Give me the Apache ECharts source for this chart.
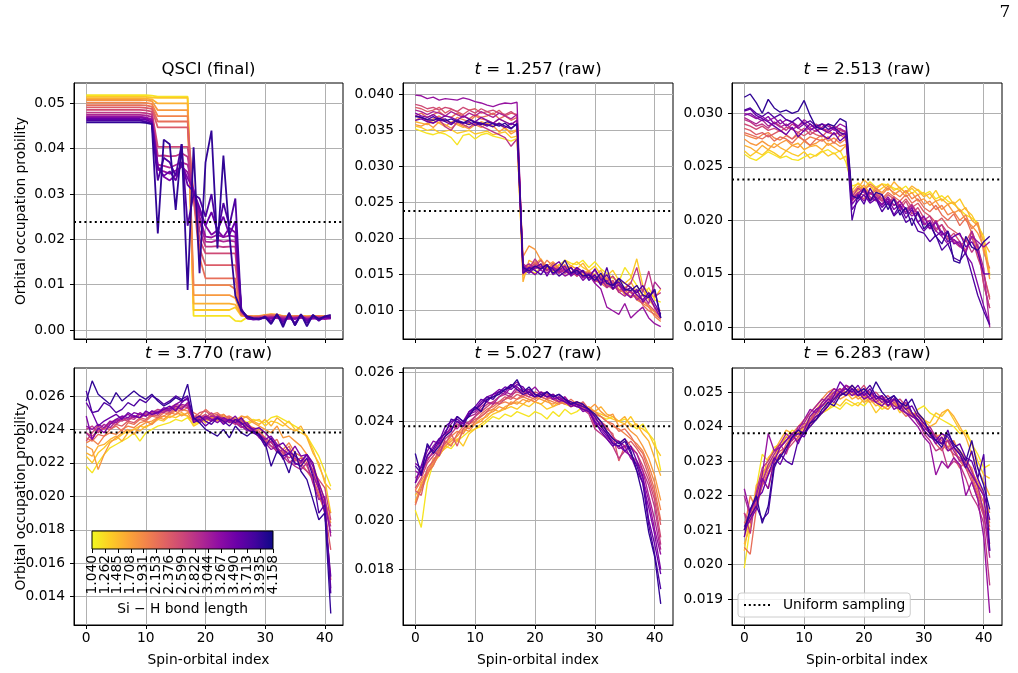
<!DOCTYPE html>
<html><head><meta charset="utf-8">
<script src="https://cdn.jsdelivr.net/npm/echarts@6/dist/echarts.min.js"></script>
<style>html,body{margin:0;padding:0;background:#fff}#c{width:1018px;height:673px}</style>
</head><body><div id="c"></div><script>
// ---------------- DATA (occupation probabilities in units of 1e-5) ----------------
const bondLengths = ['1.040','1.262','1.485','1.708','1.931','2.153','2.376','2.599','2.822','3.044','3.267','3.490','3.713','3.935','4.158'];
const panelTitles = ['QSCI (final)', '{it|t} = 1.257 (raw)', '{it|t} = 2.513 (raw)', '{it|t} = 3.770 (raw)', '{it|t} = 5.027 (raw)', '{it|t} = 6.283 (raw)'];
const xTickValues = [0, 10, 20, 30, 40];
const yTicksQsci = [0.00, 0.01, 0.02, 0.03, 0.04, 0.05];
const yTicks1257 = [0.010, 0.015, 0.020, 0.025, 0.030, 0.035, 0.040];
const yTicks2513 = [0.010, 0.015, 0.020, 0.025, 0.030];
const yTicks3770 = [0.014, 0.016, 0.018, 0.020, 0.022, 0.024, 0.026];
const yTicks5027 = [0.018, 0.020, 0.022, 0.024, 0.026];
const yTicks6283 = [0.019, 0.020, 0.021, 0.022, 0.023, 0.024, 0.025];
const uniformLevel = 0.0238095;

const qsciFinal = [
[5180,5180,5180,5180,5180,5180, 5180,5180,5180,5180,5180,5170, 5150,5150,5150,5150,5150,5150, 310,310,310,310,310,310, 310,200,190,280,300,300, 305,300,300,300,300,300, 300,300,300,300,300,300],
[5145,5145,5145,5145,5145,5145, 5145,5145,5145,5145,5145,5130, 5120,5120,5120,5120,5120,5120, 440,440,440,440,440,440, 440,500,310,300,290,300, 320,340,330,310,300,300, 300,290,300,300,300,300],
[5110,5110,5110,5110,5110,5110, 5110,5110,5110,5110,5105,5090, 5000,5000,5000,5000,5000,5000, 580,580,580,580,580,580, 580,560,320,300,300,310, 330,350,340,300,290,300, 310,300,300,300,300,300],
[5075,5075,5075,5075,5075,5075, 5075,5075,5075,5075,5070,5050, 4850,4850,4850,4850,4850,4850, 770,770,770,770,770,770, 770,700,330,310,300,290, 320,340,330,300,300,310, 300,300,300,300,300,300],
[5015,5015,5015,5015,5015,5015, 5015,5015,5015,5015,5010,4990, 4720,4720,4720,4720,4720,4720, 990,990,990,990,990,990, 990,900,330,310,300,300, 320,330,320,300,290,300, 300,290,300,300,300,300],
[4960,4960,4960,4960,4960,4960, 4960,4960,4960,4960,4955,4930, 4600,4600,4600,4600,4600,4600, 2900,1600,1140,1140,1140,1140, 1140,1140,350,300,290,300, 310,330,320,300,290,300, 300,290,300,300,290,300],
[4910,4910,4910,4910,4910,4910, 4910,4910,4910,4910,4900,4880, 4470,4470,4470,4470,4470,4470, 2950,1800,1430,1430,1430,1430, 1430,1430,380,290,280,290, 300,310,300,290,280,290, 300,280,290,290,280,290],
[4855,4855,4855,4855,4855,4855, 4855,4855,4855,4855,4845,4820, 4040,4040,4040,4040,4040,4040, 2980,2000,1690,1690,1690,1690, 1690,1690,400,280,270,280, 290,300,290,280,270,280, 290,270,280,280,270,280],
[4795,4795,4795,4795,4795,4795, 4795,4795,4795,4795,4785,4760, 3840,3850,3830,3840,3900,3820, 3000,2200,1840,1840,1850,1830, 1840,1840,420,270,260,270, 280,290,280,270,260,270, 280,260,270,280,260,270],
[4745,4745,4745,4745,4745,4745, 4745,4745,4745,4745,4735,4700, 3650,3620,3580,3640,3700,3650, 3050,2400,1950,1940,1980,1950, 1970,1950,430,260,250,260, 270,280,270,260,250,260, 270,250,260,270,250,260],
[4705,4705,4705,4705,4705,4705, 4705,4705,4705,4705,4690,4650, 3530,3500,3450,3520,3600,3480, 3000,2500,2060,2040,2100,2050, 2080,2060,450,260,240,250, 260,270,260,240,250,260, 270,240,250,260,240,260],
[4685,4685,4685,4685,4685,4685, 4685,4685,4685,4685,4670,4620, 3600,3380,3300,3420,3650,3350, 3100,2600,2300,2100,2200,2050, 2250,2150,460,250,240,250, 270,250,300,220,260,240, 300,230,260,240,270,250],
[4655,4655,4655,4655,4655,4655, 4655,4655,4655,4655,4640,4580, 3600,3400,3500,3300,3700,3200, 3050,2700,2300,2600,2200,2500, 2100,2400,420,260,230,240, 280,200,320,180,300,150, 330,200,290,220,280,270],
[4620,4620,4620,4620,4620,4620, 4620,4620,4620,4620,4600,4550, 3300,3800,3700,3400,4100,2300, 3000,2900,2500,3000,2100,2800, 2300,2900,450,280,250,230, 300,150,350,120,360,100, 340,150,330,200,300,280],
[4580,4580,4580,4580,4580,4580, 4580,4580,4580,4580,4570,4540, 2130,4200,4100,2650,4100,880, 4030,1250,3700,4400,1800,3850, 2100,750,430,300,260,250, 280,130,350,60,380,100, 350,80,330,240,300,330]
];

const raw1257 = [
[3520,3490,3460,3440,3470,3450, 3400,3300,3430,3450,3380,3440, 3460,3420,3400,3380,3350,3390, 1480,1560,1520,1600,1580,1540, 1630,1700,1660,1640,1700,1600, 1680,1580,1520,1450,1400,1600, 1480,1350,1200,1320,1150,1120],
[3560,3540,3500,3520,3470,3490, 3510,3460,3480,3500,3450,3470, 3490,3440,3460,3480,3400,3420, 1550,1620,1580,1650,1600,1560, 1640,1590,1620,1680,1600,1550, 1620,1500,1480,1560,1420,1380, 1450,1720,1350,1250,1180,1300],
[3620,3600,3580,3640,3600,3550, 3620,3580,3540,3600,3570,3620, 3590,3550,3600,3520,3480,3510, 1400,1700,1650,1720,1580,1640, 1560,1700,1620,1580,1660,1540, 1500,1560,1420,1480,1380,1320, 1400,1250,1300,1150,1050,950],
[3580,3560,3600,3540,3620,3580, 3530,3600,3560,3520,3580,3540, 3600,3560,3480,3540,3450,3500, 1750,1900,1850,1700,1620,1680, 1600,1540,1620,1580,1500,1560, 1450,1500,1380,1420,1300,1250, 1330,1200,1150,1050,980,900],
[3640,3680,3620,3660,3700,3640, 3600,3680,3650,3620,3700,3660, 3640,3600,3660,3620,3580,3640, 1600,1550,1650,1580,1700,1620, 1560,1640,1520,1580,1480,1540, 1420,1380,1460,1300,1350,1220, 1280,1150,1100,1050,920,850],
[3700,3740,3680,3720,3760,3700, 3680,3740,3700,3660,3720,3680, 3700,3740,3660,3700,3640,3680, 1500,1620,1680,1600,1550,1660, 1580,1520,1600,1480,1550,1450, 1500,1380,1320,1400,1250,1300, 1180,1220,1080,1000,950,880],
[3820,3800,3760,3780,3820,3740, 3790,3760,3720,3780,3800,3740, 3760,3720,3780,3700,3740,3720, 1650,1580,1620,1700,1560,1620, 1520,1600,1540,1480,1560,1500, 1420,1480,1360,1300,1380,1240, 1200,1280,1150,1080,1000,920],
[3860,3840,3800,3820,3780,3820, 3800,3760,3820,3780,3740,3800, 3760,3780,3740,3720,3760,3700, 1550,1600,1650,1580,1620,1560, 1600,1540,1500,1580,1460,1520, 1480,1400,1350,1420,1280,1320, 1250,1180,1100,1250,1030,1000],
[3700,3680,3640,3600,3650,3550, 3500,3620,3580,3540,3600,3560, 3520,3480,3440,3400,3280,3380, 1650,1580,1720,1600,1640,1560, 1580,1520,1600,1480,1540,1500, 1560,1450,1400,1480,1350,1300, 1380,1600,1250,1550,1200,1250],
[3780,3760,3720,3760,3740,3700, 3760,3720,3680,3740,3700,3760, 3720,3680,3740,3700,3660,3720, 1600,1650,1580,1620,1560,1600, 1520,1580,1500,1560,1480,1520, 1400,1460,1320,1380,1260,1200, 1280,1150,1220,1100,1400,1300],
[3990,3980,3940,3960,3920,3940, 3930,3920,3950,3930,3900,3880, 3850,3830,3860,3880,3870,3890, 1520,1580,1620,1560,1520,1600, 1550,1480,1520,1600,1450,1500, 1380,1300,1050,1000,950,1100, 900,980,1050,900,820,780],
[3740,3700,3680,3720,3660,3700, 3680,3640,3700,3660,3620,3680, 3640,3600,3660,3620,3580,3640, 1620,1560,1500,1580,1640,1500, 1560,1620,1480,1540,1420,1500, 1460,1380,1420,1300,1360,1250, 1180,1300,1120,1200,1050,900],
[3640,3660,3620,3600,3650,3620, 3580,3640,3600,3620,3570,3600, 3560,3600,3580,3540,3600,3560, 1580,1520,1600,1650,1480,1620, 1680,1560,1500,1600,1540,1450, 1580,1420,1500,1350,1400,1280, 1320,1220,1150,1250,1100,950],
[3700,3680,3650,3690,3640,3660, 3600,3640,3610,3580,3620,3600, 3580,3550,3600,3560,3520,3600, 1520,1600,1560,1500,1620,1580, 1480,1540,1600,1500,1560,1420, 1500,1350,1600,1300,1450,1380, 1320,1250,1350,1200,1280,900],
[3690,3680,3650,3640,3670,3630, 3660,3620,3600,3650,3610,3580, 3620,3590,3560,3600,3530,3590, 1600,1550,1620,1580,1640,1520, 1580,1700,1520,1560,1480,1500, 1420,1520,1380,1350,1450,1300, 1280,1350,1220,1180,1300,900]
];

const raw2513 = [
[2620,2580,2560,2600,2640,2610, 2580,2600,2570,2560,2590,2620, 2600,2640,2660,2620,2650,2540, 2320,2340,2300,2360,2310,2340, 2330,2300,2280,2320,2250,2290, 2240,2270,2200,2230,2180,2150, 2100,2050,2020,1980,1800,1480],
[2650,2600,2640,2610,2660,2630, 2590,2650,2620,2600,2640,2580, 2610,2650,2600,2630,2570,2600, 2280,2350,2300,2320,2260,2300, 2340,2280,2310,2250,2300,2240, 2260,2200,2280,2180,2230,2150, 2200,2100,2050,1950,1850,1500],
[2700,2680,2640,2700,2660,2720, 2680,2650,2700,2720,2660,2690, 2700,2660,2720,2680,2640,2700, 2260,2300,2380,2320,2290,2340, 2280,2360,2300,2260,2320,2280, 2220,2250,2180,2200,2150,2170, 2080,2120,2000,1950,1800,1700],
[2760,2720,2700,2740,2700,2680, 2720,2750,2700,2680,2740,2700, 2720,2760,2700,2730,2690,2710, 2230,2280,2330,2250,2300,2260, 2320,2240,2280,2220,2260,2180, 2200,2140,2180,2100,2150,2070, 2100,2000,1950,1880,1750,1450],
[2800,2780,2760,2800,2820,2770, 2750,2790,2760,2800,2740,2780, 2760,2800,2740,2770,2720,2760, 2250,2320,2280,2340,2300,2240, 2300,2260,2220,2280,2200,2240, 2150,2180,2100,2140,2050,2080, 2000,2050,1920,1980,1700,1550],
[2820,2800,2780,2760,2800,2740, 2780,2760,2720,2780,2750,2700, 2760,2740,2780,2720,2800,2760, 2200,2260,2300,2240,2280,2200, 2260,2220,2180,2240,2160,2200, 2120,2080,2140,2050,2000,2060, 1950,2020,1880,1700,1500,1280],
[2860,2840,2800,2820,2780,2810, 2840,2800,2760,2820,2790,2830, 2800,2780,2840,2800,2820,2780, 2180,2240,2200,2260,2220,2180, 2240,2200,2140,2200,2120,2160, 2080,2040,1980,2020,1940,1900, 1860,1800,1900,1750,1400,1180],
[2900,2880,2850,2880,2840,2860, 2830,2870,2850,2820,2860,2800, 2840,2860,2820,2800,2840,2820, 2210,2260,2230,2180,2250,2200, 2160,2220,2100,2180,2060,2120, 2020,1980,1900,1960,1820,1880, 1800,1720,1850,1650,1500,1260],
[2940,2920,2880,2900,2860,2920, 2880,2840,2900,2860,2830,2870, 2900,2860,2840,2880,2850,2830, 2220,2300,2260,2200,2240,2180, 2200,2140,2180,2100,2150,2060, 2000,2040,1920,1960,1880,1800, 1750,1820,1700,1780,1400,1180],
[2960,2930,2900,2940,2880,2910, 2870,2900,2850,2880,2920,2860, 2830,2870,2900,2840,2860,2820, 2190,2250,2300,2220,2180,2240, 2150,2200,2120,2080,2140,2050, 1980,1920,2000,1880,1850,1820, 1780,1700,1900,1750,1550,1000],
[3000,2980,2950,2970,2930,2960, 2900,2940,2920,2880,2940,2900, 2860,2900,2880,2850,2900,2870, 2200,2240,2180,2260,2200,2150, 2220,2140,2180,2100,2040,2080, 1960,2000,1900,1850,1780,1820, 1760,1700,1850,1800,1750,1800],
[2980,3000,2960,2930,2970,2900, 2940,2880,2920,2860,2900,2840, 2880,2850,2820,2860,2790,2820, 2150,2220,2280,2180,2220,2140, 2200,2100,2150,2060,2120,1980, 2040,1920,1980,1860,1900,1780, 1800,1680,1600,1400,1200,1030],
[3020,3040,2980,2950,2920,2880, 2840,2800,2870,2780,2840,2900, 2850,2800,2760,2820,2740,2790, 2100,2180,2240,2160,2200,2120, 2180,2050,2140,2020,2100,1980, 1900,1960,1850,1900,1800,1850, 1880,1750,1800,1700,1500,1500],
[3030,3050,3000,2970,3010,2960, 2990,2940,2920,2960,2900,2930, 2880,2900,2850,2870,2820,2800, 2000,2240,2150,2300,2200,2080, 2160,2040,2100,1980,2020,1900, 1880,1800,1860,1720,1780,1650, 1620,1700,1500,1300,1150,1020],
[3150,3180,3100,3000,3130,3050, 3010,3030,3000,3020,3120,2980, 2870,2850,2900,2880,2950,2920, 2230,2200,2300,2180,2260,2240, 2100,2200,2050,2120,1950,2080, 1920,1980,1850,1780,1900,1620, 1600,1850,1750,1720,1800,1850]
];

const raw3770 = [
[2180,2140,2200,2250,2290,2310, 2330,2350,2380,2330,2380,2400, 2420,2430,2440,2460,2450,2470, 2430,2450,2460,2470,2480,2460, 2450,2470,2460,2440,2460,2450, 2440,2470,2480,2460,2440,2420, 2400,2360,2300,2240,2150,2060],
[2240,2200,2260,2290,2330,2340, 2370,2390,2400,2420,2410,2440, 2460,2450,2480,2470,2490,2480, 2420,2440,2460,2450,2470,2480, 2440,2460,2450,2430,2450,2460, 2420,2450,2440,2420,2450,2400, 2380,2360,2280,2180,2100,1900],
[2260,2240,2300,2310,2340,2360, 2330,2380,2400,2390,2420,2430, 2460,2480,2470,2490,2500,2480, 2450,2470,2440,2480,2460,2450, 2470,2440,2460,2480,2450,2430, 2460,2420,2470,2440,2410,2390, 2420,2350,2260,2200,2080,2040],
[2300,2280,2160,2250,2320,2350, 2380,2400,2370,2420,2440,2450, 2470,2460,2490,2510,2480,2500, 2440,2460,2470,2450,2480,2490, 2460,2450,2480,2470,2440,2420, 2400,2380,2420,2350,2360,2330, 2300,2250,2200,2080,1980,1840],
[2320,2340,2310,2360,2380,2370, 2400,2420,2410,2440,2450,2430, 2470,2480,2500,2490,2520,2510, 2470,2460,2480,2470,2450,2490, 2460,2440,2470,2430,2410,2400, 2380,2340,2310,2280,2320,2260, 2240,2200,2160,2050,1950,1900],
[2350,2330,2370,2360,2400,2420, 2390,2440,2430,2460,2450,2480, 2470,2500,2490,2520,2510,2530, 2500,2480,2520,2490,2500,2470, 2480,2460,2450,2420,2400,2390, 2350,2320,2340,2260,2300,2220, 2200,2150,2100,2020,1900,1500],
[2380,2360,2390,2410,2400,2430, 2420,2450,2440,2470,2460,2490, 2480,2510,2500,2530,2520,2560, 2470,2500,2510,2480,2490,2460, 2470,2450,2440,2410,2390,2380, 2340,2300,2280,2250,2280,2210, 2230,2180,2100,2000,1920,1680],
[2330,2380,2420,2400,2440,2430, 2460,2450,2480,2470,2490,2480, 2500,2520,2510,2540,2530,2550, 2480,2470,2490,2460,2480,2450, 2460,2440,2420,2400,2410,2370, 2350,2320,2290,2260,2230,2250, 2200,2220,2150,2100,2050,1860],
[2400,2420,2380,2410,2440,2460, 2450,2470,2460,2490,2480,2500, 2520,2510,2530,2550,2540,2530, 2460,2480,2470,2500,2460,2470, 2450,2430,2460,2400,2380,2360, 2330,2300,2270,2240,2200,2230, 2180,2150,2120,2050,1950,1820],
[2380,2340,2400,2430,2410,2450, 2470,2460,2480,2470,2500,2490, 2510,2500,2530,2520,2550,2540, 2450,2470,2460,2480,2470,2440, 2460,2440,2410,2430,2380,2370, 2300,2330,2260,2280,2210,2180, 2160,2200,2080,1980,2000,1760],
[2420,2400,2430,2410,2450,2440, 2470,2490,2470,2500,2480,2510, 2490,2520,2510,2540,2520,2560, 2460,2440,2470,2450,2480,2460, 2440,2460,2420,2390,2400,2350, 2320,2280,2300,2220,2260,2190, 2200,2250,2140,2040,1950,1780],
[2480,2340,2410,2380,2430,2460, 2480,2470,2500,2490,2480,2510, 2500,2530,2520,2550,2570,2580, 2470,2450,2480,2460,2440,2470, 2450,2480,2430,2440,2390,2370, 2340,2360,2310,2280,2250,2300, 2240,2250,2180,2080,1980,1450],
[2560,2500,2420,2450,2470,2490, 2460,2500,2480,2470,2510,2490, 2500,2520,2540,2510,2560,2590, 2440,2460,2420,2450,2470,2430, 2460,2440,2470,2420,2400,2410, 2380,2340,2300,2320,2270,2240, 2210,2250,2200,2060,1900,1520],
[2630,2500,2510,2560,2540,2500, 2520,2560,2540,2580,2560,2600, 2580,2550,2570,2600,2580,2600, 2460,2480,2450,2430,2470,2450, 2420,2460,2440,2400,2380,2360, 2300,2350,2280,2240,2260,2200, 2180,2230,2120,1900,1950,1420],
[2570,2690,2610,2580,2550,2620, 2570,2600,2630,2600,2580,2610, 2570,2540,2560,2590,2570,2670, 2470,2440,2400,2380,2360,2400, 2350,2420,2380,2360,2390,2370, 2320,2180,2270,2230,2140,2270, 2150,2100,1980,1860,1900,1300]
];

const raw5027 = [
[2040,1970,2150,2230,2260,2300, 2290,2320,2340,2360,2370,2380, 2400,2420,2410,2430,2420,2440, 2430,2420,2440,2430,2410,2440, 2420,2450,2430,2440,2460,2440, 2430,2420,2410,2420,2400,2410, 2390,2370,2390,2350,2320,2200],
[2080,2120,2180,2240,2270,2290, 2310,2330,2300,2350,2370,2390, 2410,2430,2440,2450,2460,2450, 2470,2460,2480,2470,2450,2460, 2480,2470,2460,2480,2470,2450, 2440,2430,2420,2410,2400,2390, 2420,2380,2370,2350,2300,2260],
[2100,2140,2200,2220,2280,2300, 2330,2320,2360,2380,2390,2410, 2420,2450,2440,2460,2470,2480, 2470,2490,2480,2470,2490,2460, 2470,2480,2460,2470,2450,2460, 2440,2460,2430,2420,2400,2420, 2380,2390,2350,2320,2250,2180],
[2070,2150,2180,2250,2260,2300, 2320,2340,2370,2360,2390,2400, 2430,2440,2460,2450,2480,2470, 2490,2480,2500,2490,2480,2470, 2490,2480,2470,2480,2460,2450, 2470,2440,2420,2430,2380,2390, 2360,2340,2300,2250,2180,2080],
[2120,2160,2200,2230,2290,2310, 2340,2360,2350,2390,2400,2420, 2440,2450,2470,2480,2470,2490, 2500,2490,2480,2500,2490,2480, 2470,2490,2480,2460,2470,2450, 2440,2420,2400,2380,2370,2350, 2330,2310,2280,2220,2150,2040],
[2060,2130,2190,2220,2270,2320, 2300,2350,2380,2370,2400,2430, 2450,2460,2480,2490,2500,2490, 2510,2500,2490,2510,2500,2490, 2480,2470,2490,2470,2460,2440, 2430,2420,2400,2390,2360,2370, 2340,2300,2270,2200,2120,2000],
[2120,2100,2210,2240,2280,2310, 2350,2300,2370,2390,2410,2420, 2440,2470,2480,2500,2490,2510, 2500,2520,2510,2500,2490,2510, 2490,2480,2470,2460,2480,2450, 2380,2400,2370,2350,2240,2300, 2320,2290,2250,2180,2100,1980],
[2130,2170,2230,2260,2290,2340, 2370,2390,2380,2400,2420,2440, 2460,2480,2470,2490,2510,2520, 2510,2500,2520,2510,2500,2490, 2480,2500,2470,2480,2460,2440, 2420,2400,2380,2340,2310,2330, 2300,2270,2220,2160,2080,1930],
[2150,2190,2240,2280,2260,2330, 2350,2380,2400,2390,2420,2450, 2470,2480,2500,2510,2500,2530, 2520,2510,2500,2520,2510,2490, 2500,2480,2470,2480,2450,2430, 2370,2350,2330,2300,2250,2280, 2260,2240,2200,2140,2050,1900],
[2170,2200,2250,2270,2310,2340, 2380,2370,2400,2420,2430,2460, 2480,2470,2500,2520,2510,2540, 2520,2530,2510,2500,2520,2500, 2480,2490,2460,2470,2450,2440, 2410,2390,2360,2330,2320,2300, 2290,2270,2200,2100,2000,1880],
[2200,2180,2260,2300,2330,2350, 2370,2400,2390,2430,2440,2470, 2490,2500,2520,2510,2540,2560, 2530,2520,2540,2510,2500,2510, 2490,2500,2470,2460,2470,2440, 2400,2380,2350,2320,2290,2300, 2250,2230,2170,2080,1960,1860],
[2230,2210,2280,2320,2310,2360, 2390,2420,2400,2440,2450,2480, 2500,2510,2530,2520,2550,2540, 2520,2530,2510,2500,2520,2490, 2500,2480,2460,2470,2440,2450, 2390,2370,2340,2310,2300,2280, 2260,2200,2150,2050,1940,1800],
[2150,2220,2300,2280,2320,2380, 2400,2410,2390,2440,2460,2490, 2480,2510,2520,2540,2530,2550, 2540,2510,2500,2520,2500,2510, 2490,2480,2470,2460,2450,2440, 2400,2360,2330,2300,2320,2280, 2300,2240,2180,2000,1900,1780],
[2220,2190,2260,2290,2330,2350, 2410,2400,2380,2430,2450,2470, 2500,2490,2520,2530,2550,2530, 2510,2520,2500,2510,2520,2500, 2510,2490,2480,2470,2460,2450, 2420,2380,2350,2310,2300,2320, 2270,2220,2150,1980,1860,1720],
[2270,2180,2310,2270,2300,2340, 2360,2420,2400,2420,2460,2440, 2490,2500,2510,2530,2540,2570, 2520,2540,2510,2500,2520,2500, 2510,2490,2470,2480,2470,2450, 2430,2400,2360,2330,2310,2330, 2280,2200,2100,1950,1850,1660]
];

const raw6283 = [
[1990,2110,2220,2320,2300,2340, 2350,2370,2390,2380,2400,2420, 2430,2440,2450,2460,2450,2470, 2460,2470,2460,2480,2470,2450, 2460,2470,2450,2440,2430,2450, 2460,2440,2430,2420,2410,2400, 2380,2390,2350,2320,2280,2290],
[2040,2150,2180,2260,2290,2320, 2340,2360,2370,2360,2390,2410, 2420,2440,2450,2470,2460,2480, 2470,2460,2480,2470,2440,2460, 2450,2470,2440,2460,2430,2440, 2420,2410,2440,2430,2450,2420, 2390,2380,2350,2300,2260,2250],
[2060,2110,2230,2250,2310,2330, 2360,2390,2380,2370,2400,2430, 2440,2460,2470,2480,2490,2500, 2480,2490,2470,2480,2460,2470, 2480,2460,2470,2450,2440,2430, 2420,2400,2410,2440,2450,2430, 2400,2370,2320,2280,2240,2200],
[2080,2140,2200,2270,2280,2310, 2340,2370,2360,2390,2380,2410, 2450,2470,2490,2500,2480,2490, 2500,2480,2490,2470,2480,2460, 2450,2470,2460,2450,2430,2420, 2400,2390,2370,2380,2360,2350, 2330,2310,2270,2240,2200,2150],
[2100,2200,2160,2250,2220,2300, 2320,2340,2380,2400,2420,2440, 2460,2480,2500,2510,2490,2500, 2520,2500,2490,2480,2490,2470, 2460,2480,2450,2470,2440,2430, 2410,2380,2360,2370,2340,2360, 2320,2300,2280,2220,2180,2120],
[2050,2030,2160,2230,2270,2290, 2310,2350,2370,2360,2390,2420, 2440,2470,2490,2480,2510,2500, 2490,2510,2480,2500,2470,2480, 2460,2470,2450,2430,2440,2420, 2390,2370,2380,2350,2330,2340, 2300,2280,2260,2210,2160,2110],
[2120,2150,2190,2240,2280,2310, 2330,2340,2360,2380,2410,2400, 2430,2460,2480,2490,2500,2510, 2500,2490,2510,2500,2480,2490, 2470,2480,2460,2450,2430,2440, 2400,2380,2350,2330,2360,2310, 2280,2300,2250,2200,2150,2100],
[2150,2120,2180,2230,2260,2290, 2320,2330,2350,2370,2390,2420, 2450,2440,2470,2490,2500,2520, 2510,2500,2520,2490,2500,2480, 2490,2470,2480,2460,2440,2430, 2410,2390,2370,2360,2340,2320, 2310,2280,2240,2190,2140,2060],
[2150,2090,2210,2280,2300,2330, 2350,2320,2370,2390,2400,2410, 2440,2460,2480,2500,2490,2520, 2500,2490,2500,2480,2470,2490, 2460,2480,2470,2450,2430,2420, 2380,2360,2330,2340,2280,2300, 2290,2250,2200,2170,2120,1940],
[2200,2140,2170,2240,2290,2320, 2350,2380,2360,2400,2410,2440, 2460,2480,2470,2500,2510,2490, 2510,2500,2490,2500,2480,2490, 2470,2480,2460,2470,2440,2410, 2390,2400,2370,2350,2360,2330, 2300,2310,2270,2230,2150,2020],
[2220,2150,2200,2260,2380,2330, 2340,2360,2380,2390,2420,2450, 2440,2470,2490,2510,2500,2520, 2510,2490,2500,2480,2490,2470, 2480,2460,2450,2440,2420,2400, 2370,2350,2260,2300,2280,2310, 2290,2200,2240,2190,2080,1860],
[2100,2130,2160,2250,2220,2300, 2340,2360,2380,2350,2390,2430, 2450,2460,2480,2470,2500,2510, 2490,2500,2480,2490,2470,2460, 2480,2450,2460,2440,2430,2420, 2400,2380,2350,2370,2330,2340, 2320,2290,2260,2230,2200,2040],
[2080,2160,2190,2210,2260,2310, 2290,2330,2370,2380,2370,2410, 2430,2440,2460,2490,2530,2510, 2500,2520,2490,2510,2480,2490, 2460,2480,2470,2450,2460,2430, 2410,2390,2360,2380,2370,2340, 2350,2310,2300,2250,2210,2130],
[2110,2140,2170,2130,2150,2280, 2320,2300,2290,2360,2380,2400, 2420,2440,2460,2480,2500,2490, 2510,2490,2500,2520,2490,2480, 2470,2490,2450,2480,2440,2420, 2390,2370,2360,2350,2390,2340, 2320,2280,2330,2250,2320,2040],
[2100,2160,2200,2120,2170,2290, 2310,2340,2370,2390,2380,2410, 2420,2450,2470,2460,2490,2500, 2520,2500,2510,2490,2530,2500, 2480,2490,2470,2460,2480,2440, 2420,2380,2360,2340,2380,2350, 2330,2300,2360,2280,2230,2160]
];

// ---------------- LAYOUT / STYLE ----------------
const panelData = [qsciFinal, raw1257, raw2513, raw3770, raw5027, raw6283];
const panelYTicks = [yTicksQsci, yTicks1257, yTicks2513, yTicks3770, yTicks5027, yTicks6283];
const panelYRange = [[-0.0020, 0.0545], [0.00608, 0.04157], [0.00891, 0.03283], [0.01231, 0.02767], [0.01574, 0.02617], [0.01825, 0.0257]];
const panelDecimals = [2, 3, 3, 3, 3, 3];
const grids = [
  {left: 74, top: 83, width: 269, height: 256},
  {left: 403, top: 83, width: 270, height: 256},
  {left: 732, top: 83, width: 270, height: 256},
  {left: 74, top: 368, width: 269, height: 257},
  {left: 403, top: 368, width: 270, height: 257},
  {left: 732, top: 368, width: 270, height: 257}
];
const cbarGrid = {left: 92, top: 531, width: 181, height: 18};
const X_MIN = -2.05, X_MAX = 43.05;
const FONT = "'DejaVu Sans', sans-serif";
const FS = 13.8;
const GRID_LINE = {color: '#b0b0b0', width: 1};

const plasmaStops = ['#0d0887','#41049d','#6a00a8','#8f0da4','#b12a90','#cc4778','#e16462','#f2844b','#fca636','#fcce25','#f0f921'];
function hexToRgb(h){return [parseInt(h.slice(1,3),16),parseInt(h.slice(3,5),16),parseInt(h.slice(5,7),16)];}
function plasma(t){
  t = Math.max(0, Math.min(1, t));
  const s = t * 10, k = Math.min(9, Math.floor(s)), f = s - k;
  const a = hexToRgb(plasmaStops[k]), b = hexToRgb(plasmaStops[k+1]);
  const c = a.map((v, j) => Math.round(v + (b[j] - v) * f));
  return 'rgb(' + c.join(',') + ')';
}
const nLines = bondLengths.length;
const lineColor = i => plasma(0.95 - 0.88 * i / (nLines - 1));

const grid = [], xAxis = [], yAxis = [], series = [];
const errs = [];
grids.forEach((g, p) => {
  grid.push(Object.assign({show: true, borderColor: '#000', borderWidth: 1, containLabel: false, outerBoundsMode: 'none'}, g));
  xAxis.push({
    type: 'value', gridIndex: p, min: X_MIN, max: X_MAX,
    axisLine: {show: true, onZero: false, lineStyle: {color: '#000', width: 1}},
    axisTick: {show: true, customValues: xTickValues, length: 4, lineStyle: {color: '#000', width: 1}},
    axisLabel: {show: p >= 3, customValues: xTickValues, margin: 6, fontSize: FS, color: '#000', fontFamily: FONT},
    splitLine: {show: true, lineStyle: GRID_LINE}
  });
  const dec = panelDecimals[p];
  yAxis.push({
    type: 'value', gridIndex: p, min: panelYRange[p][0], max: panelYRange[p][1],
    axisLine: {show: true, onZero: false, lineStyle: {color: '#000', width: 1}},
    axisTick: {show: true, customValues: panelYTicks[p], length: 4, lineStyle: {color: '#000', width: 1}},
    axisLabel: {customValues: panelYTicks[p], margin: 9, fontSize: FS, color: '#000', fontFamily: FONT, formatter: v => Number(v).toFixed(dec)},
    splitLine: {show: true, lineStyle: GRID_LINE}
  });
  panelData[p].forEach((vals, i) => {
    if (vals.length !== 42) errs.push('P' + p + ' L' + i + ' n=' + vals.length);
    series.push({
      type: 'line', xAxisIndex: p, yAxisIndex: p, symbol: 'none', showSymbol: false, silent: true,
      data: vals.map((v, x) => [x, v * 1e-5]),
      lineStyle: {color: lineColor(i), width: p === 0 ? 1.8 : 1.35},
      itemStyle: {color: lineColor(i)},
      z: 2
    });
  });
  series.push({
    type: 'line', name: 'Uniform sampling', xAxisIndex: p, yAxisIndex: p, symbol: 'none', showSymbol: false, silent: true,
    data: [[X_MIN, uniformLevel], [X_MAX, uniformLevel]],
    lineStyle: {color: '#000', width: 2, type: [2, 3.2]},
    itemStyle: {color: '#000'},
    z: 3
  });
});

// colorbar (category axis so every bond-length label is shown)
grid.push(Object.assign({show: false, containLabel: false, outerBoundsMode: 'none'}, cbarGrid));
xAxis.push({
  type: 'category', gridIndex: 6, data: bondLengths, boundaryGap: false,
  axisLine: {show: false, onZero: false},
  axisTick: {show: true, interval: 0, alignWithLabel: true, length: 4, lineStyle: {color: '#000', width: 1}},
  axisLabel: {interval: 0, rotate: 90, margin: 6, fontSize: FS, color: '#000', fontFamily: FONT, showMinLabel: true, showMaxLabel: true},
  splitLine: {show: false}
});
yAxis.push({type: 'value', gridIndex: 6, min: 0, max: 1, show: false});
const gradStops = plasmaStops.map((c, j) => ({offset: j / 10, color: plasmaStops[10 - j]}));
series.push({
  type: 'custom', xAxisIndex: 6, yAxisIndex: 6, silent: true, z: 5,
  data: [[0, nLines - 1]],
  renderItem: (params, api) => {
    const a = api.coord([api.value(0), 0]);
    const b = api.coord([api.value(1), 1]);
    return {type: 'rect', shape: {x: a[0], y: b[1], width: b[0] - a[0], height: a[1] - b[1]},
      style: {fill: new echarts.graphic.LinearGradient(0, 0, 1, 0, gradStops), stroke: '#000', lineWidth: 1}};
  }
});

function txt(text, x, y, size, extra) {
  return Object.assign({type: 'text', x: x, y: y, silent: true, z: 10,
    style: {text: text, fontSize: size, fontFamily: FONT, fill: '#000', align: 'center', verticalAlign: 'middle', textAlign: 'center', textVerticalAlign: 'middle',
      rich: {it: {fontStyle: 'italic', fontSize: size, fontFamily: FONT, fill: '#000'}}}}, extra || {});
}
const graphics = [];
grids.forEach((g, p) => {
  const cx = g.left + g.width / 2;
  graphics.push(txt(panelTitles[p], cx, p < 3 ? 70 : 354, 16.6));
  if (p >= 3) graphics.push(txt('Spin-orbital index', cx, 660, FS));
  if (p % 3 === 0) graphics.push(txt('Orbital occupation probility', 21, g.top + g.height / 2, FS, {rotation: Math.PI / 2}));
});
graphics.push(txt('Si \u2212 H bond length', cbarGrid.left + cbarGrid.width / 2, 609, FS));
graphics.push({type: 'text', x: 1005, y: 13, silent: true, style: {text: '7', fontSize: 17, fontFamily: "'DejaVu Serif', serif", fill: '#000', align: 'center', verticalAlign: 'middle', textAlign: 'center', textVerticalAlign: 'middle'}});
if (errs.length) graphics.push({type: 'text', x: 400, y: 20, style: {text: errs.join('; '), fontSize: 12, fill: 'red'}});

const dottedIcon = 'path://M0 0h2v2h-2zM4.8 0h2v2h-2zM9.6 0h2v2h-2zM14.4 0h2v2h-2zM19.2 0h2v2h-2zM24 0h2v2h-2z';
const chart = echarts.init(document.getElementById('c'), null, {renderer: 'canvas', width: 1018, height: 673});
chart.setOption({
  animation: false,
  backgroundColor: '#fff',
  grid: grid, xAxis: xAxis, yAxis: yAxis, series: series,
  legend: {
    data: [{name: 'Uniform sampling', icon: dottedIcon}], left: 738, top: 593, orient: 'horizontal', icon: dottedIcon,
    itemWidth: 26, itemHeight: 2, padding: [5, 5, 5, 6],
    itemStyle: {color: '#000', borderWidth: 0},
    borderColor: '#cccccc', borderWidth: 1, borderRadius: 3, backgroundColor: 'rgba(255,255,255,0.8)',
    textStyle: {fontSize: FS, color: '#000', fontFamily: FONT, padding: [0, 0, 0, 8], lineHeight: 14},
    selectedMode: false
  },
  graphic: graphics
});
</script></body></html>
